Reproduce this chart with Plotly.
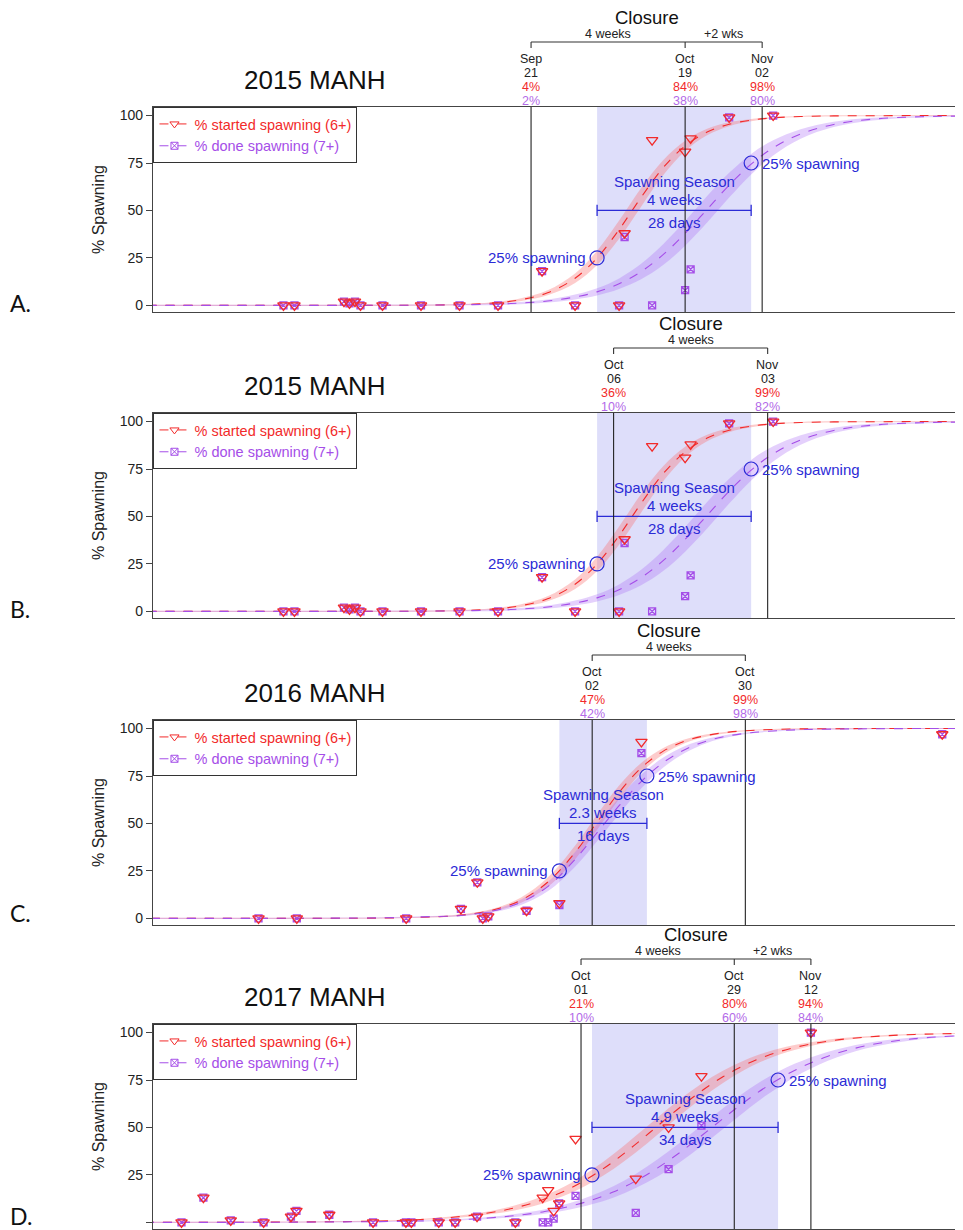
import plotly.graph_objects as go
import pandas as pd

# ---------------- data ----------------
# common month-day grid on which the fitted curves were read
grid_md = ["07-10", "08-01", "08-15", "08-25", "09-01", "09-08", "09-14", "09-19",
           "09-24", "09-29", "10-03", "10-07", "10-11", "10-15", "10-19", "10-23",
           "10-27", "10-31", "11-04", "11-09", "11-15", "11-22", "12-01", "12-12"]

# 2015 observations
obs_dates_2015 = ["2015-08-07", "2015-08-09", "2015-08-18", "2015-08-19", "2015-08-20",
                  "2015-08-21", "2015-08-25", "2015-09-01", "2015-09-08", "2015-09-15",
                  "2015-09-23", "2015-09-29", "2015-10-07", "2015-10-08", "2015-10-13",
                  "2015-10-19", "2015-10-20", "2015-10-27", "2015-11-04"]
obs_started_2015 = [0, 0, 2, 1, 2, 0, 0, 0, 0, 0, 18, 0, 0, 38, 87, 81, 88, 99, 100]
obs_done_2015 = [0, 0, 2, 1, 2, 0, 0, 0, 0, 0, 18, 0, 0, 36, 0, 8, 19, 99, 100]

# 2015 fitted curves (value and half-width of band)
fit_started_2015 = [0, 0, 0, 0, 0.1, 0.4, 1.2, 2.9, 6.6, 14.3, 25, 39.9, 56.9, 72.5, 84, 91.3,
                    95.4, 97.6, 98.8, 99.5, 99.8, 99.9, 100, 100]
band_started_2015 = [0.3, 0.3, 0.3, 0.3, 0.3, 0.3, 0.4, 0.7, 1.3, 2.5, 3.8, 4.8, 4.9, 4.0, 2.7, 1.7,
                     1.0, 0.6, 0.4, 0.3, 0.3, 0.3, 0.3, 0.3]
fit_done_2015 = [0, 0, 0, 0.1, 0.1, 0.3, 0.6, 1.2, 2.3, 4.4, 7.1, 11.4, 17.8, 26.7, 37.9, 50.6,
                 63.3, 74.4, 83, 90.3, 95.3, 98.1, 99.4, 99.8]
band_done_2015 = [0.3, 0.3, 0.3, 0.3, 0.3, 0.3, 0.5, 0.6, 0.8, 1.3, 1.9, 2.8, 4.1, 5.5, 6.5, 7.0,
                  6.5, 5.4, 4.0, 2.5, 1.4, 0.7, 0.4, 0.3]

# 2016 observations
obs_dates_2016 = ["2016-08-02", "2016-08-09", "2016-08-29", "2016-09-08", "2016-09-11",
                  "2016-09-12", "2016-09-13", "2016-09-20", "2016-09-26", "2016-10-11",
                  "2016-12-05"]
obs_started_2016 = [0, 0, 0, 5, 19, 0, 1, 4, 8, 93, 97]
obs_done_2016 = [0, 0, 0, 5, 19, 0, 1, 4, 7, 87, 97]

fit_started_2016 = [0, 0, 0, 0.2, 0.6, 1.7, 4.5, 9.6, 19.4, 35.2, 51.1, 66.7, 79.4, 88.1, 93.4,
                    96.4, 98.1, 99.0, 99.5, 99.8, 99.9, 100, 100, 100]
band_started_2016 = [0.3, 0.3, 0.3, 0.3, 0.3, 0.4, 0.7, 1.4, 2.5, 3.6, 4.0, 3.6, 2.6, 1.7, 1.0,
                     0.6, 0.4, 0.3, 0.3, 0.3, 0.3, 0.3, 0.3, 0.3]
fit_done_2016 = [0, 0, 0.1, 0.3, 0.8, 1.5, 4.0, 8.5, 17, 31.5, 45.5, 59.6, 72.2, 82.1, 89.0,
                 93.5, 96.2, 97.8, 98.7, 99.4, 99.7, 99.9, 100, 100]
band_done_2016 = [0.3, 0.3, 0.3, 0.3, 0.3, 0.4, 0.7, 1.4, 2.5, 3.9, 4.5, 4.3, 3.6, 2.6, 1.8,
                  1.1, 0.7, 0.4, 0.3, 0.3, 0.3, 0.3, 0.3, 0.3]

# 2017 observations
obs_dates_2017 = ["2017-07-20", "2017-07-24", "2017-07-29", "2017-08-04", "2017-08-09",
                  "2017-08-10", "2017-08-16", "2017-08-24", "2017-08-30", "2017-08-31",
                  "2017-09-05", "2017-09-08", "2017-09-12", "2017-09-19", "2017-09-24",
                  "2017-09-25", "2017-09-26", "2017-09-27", "2017-09-30", "2017-10-11",
                  "2017-10-17", "2017-10-23", "2017-11-12"]
obs_started_2017 = [0, 13, 1, 0, 3, 6, 4, 0, 0, 0, 0, 0, 3, 0, 13, 17, 6, 10, 44, 23, 50, 77, 100]
obs_done_2017 = [0, 13, 1, 0, 3, 6, 4, 0, 0, 0, 0, 0, 3, 0, 0, 0, 2, 10, 14, 5, 28, 51, 100]

fit_started_2017 = [0, 0.1, 0.3, 0.7, 1.4, 2.8, 4.9, 7.7, 11.9, 17.9, 24.4, 32.2, 41.2, 50.8,
                    60.4, 69.2, 76.8, 83.0, 87.8, 92.1, 95.4, 97.6, 99.0, 99.6]
band_started_2017 = [0.3, 0.3, 0.3, 0.3, 0.3, 0.5, 0.8, 1.3, 1.9, 2.6, 3.3, 3.9, 4.4, 4.5, 4.3,
                     3.8, 3.2, 2.5, 1.9, 1.3, 0.8, 0.4, 0.3, 0.3]
fit_done_2017 = [0, 0, 0.2, 0.4, 0.7, 1.3, 2.3, 3.6, 5.5, 8.5, 11.8, 16.1, 21.8, 28.7, 36.7,
                 45.6, 54.8, 63.7, 71.7, 80.0, 87.4, 93.0, 96.8, 98.6]
band_done_2017 = [0.3, 0.3, 0.3, 0.3, 0.3, 0.3, 0.5, 0.8, 1.1, 1.7, 2.3, 3.0, 3.7, 4.5, 5.1,
                  5.5, 5.5, 5.1, 4.5, 3.5, 2.4, 1.4, 0.7, 0.3]

# closures (per panel)
closure_dates_A = ["2015-09-21", "2015-10-19", "2015-11-02"]
closure_month_A = ["Sep", "Oct", "Nov"]
closure_day_A = ["21", "19", "02"]
closure_started_A = ["4%", "84%", "98%"]
closure_done_A = ["2%", "38%", "80%"]
closure_spans_A = ["4 weeks", "+2 wks"]

closure_dates_B = ["2015-10-06", "2015-11-03"]
closure_month_B = ["Oct", "Nov"]
closure_day_B = ["06", "03"]
closure_started_B = ["36%", "99%"]
closure_done_B = ["10%", "82%"]
closure_spans_B = ["4 weeks"]

closure_dates_C = ["2016-10-02", "2016-10-30"]
closure_month_C = ["Oct", "Oct"]
closure_day_C = ["02", "30"]
closure_started_C = ["47%", "99%"]
closure_done_C = ["42%", "98%"]
closure_spans_C = ["4 weeks"]

closure_dates_D = ["2017-10-01", "2017-10-29", "2017-11-12"]
closure_month_D = ["Oct", "Oct", "Nov"]
closure_day_D = ["01", "29", "12"]
closure_started_D = ["21%", "80%", "94%"]
closure_done_D = ["10%", "60%", "84%"]
closure_spans_D = ["4 weeks", "+2 wks"]

# spawning season (25% started -> 75% done)
season_2015 = ["2015-10-03", "2015-10-31"]
season_2016 = ["2016-09-26", "2016-10-12"]
season_2017 = ["2017-10-03", "2017-11-06"]
season_weeks = {"2015": "4 weeks", "2016": "2.3 weeks", "2017": "4.9 weeks"}
season_days = {"2015": "28 days", "2016": "16 days", "2017": "34 days"}
season_levels = [25, 50, 75]

panel_titles = ["2015 MANH", "2015 MANH", "2016 MANH", "2017 MANH"]
panel_letters = ["A.", "B.", "C.", "D."]

# ---------------- styles / layout ----------------
OFF = 8                      # page body margin of the html page
W, H = 963 - OFF, 1230 - OFF
RED = "#f22a2a"
PURPLE = "#a54ee8"
PURPLE_TXT = "#b36ae8"
BLUE = "#2b2bd6"
SHADE = "#dedefa"
FONT = "Liberation Sans, Arial, sans-serif"

panel_tops = [107, 413, 720, 1024]
letter_centers = [303, 609, 913, 1216]
PLOT_H = 205
X0_PX = 153
yrange = [-3.5, 104.5]
xranges = [["2015-07-14 07:00", "2015-12-08 12:00"],
           ["2015-07-14 07:00", "2015-12-08 12:00"],
           ["2016-07-13 17:00", "2016-12-08 19:00"],
           ["2017-07-14 19:00", "2017-12-09 19:00"]]

obs = {"2015": (obs_dates_2015, obs_started_2015, obs_done_2015),
       "2016": (obs_dates_2016, obs_started_2016, obs_done_2016),
       "2017": (obs_dates_2017, obs_started_2017, obs_done_2017)}
fits = {"2015": (fit_started_2015, band_started_2015, fit_done_2015, band_done_2015),
        "2016": (fit_started_2016, band_started_2016, fit_done_2016, band_done_2016),
        "2017": (fit_started_2017, band_started_2017, fit_done_2017, band_done_2017)}
seasons = {"2015": season_2015, "2016": season_2016, "2017": season_2017}
closures = [
    (closure_dates_A, closure_month_A, closure_day_A, closure_started_A, closure_done_A, closure_spans_A),
    (closure_dates_B, closure_month_B, closure_day_B, closure_started_B, closure_done_B, closure_spans_B),
    (closure_dates_C, closure_month_C, closure_day_C, closure_started_C, closure_done_C, closure_spans_C),
    (closure_dates_D, closure_month_D, closure_day_D, closure_started_D, closure_done_D, closure_spans_D),
]
panel_years = ["2015", "2015", "2016", "2017"]


def py(px):
    return 1 - (px - OFF) / H


def pxx(px):
    return (px - OFF) / W


def mid(a, b):
    ta, tb = pd.Timestamp(a), pd.Timestamp(b)
    return (ta + (tb - ta) / 2).strftime("%Y-%m-%d %H:%M")


fig = go.Figure()
shapes = []
annotations = []
layout_axes = {}

for i in range(4):
    n = "" if i == 0 else str(i + 1)
    xa, ya = "x" + n, "y" + n
    yr = panel_years[i]
    top = panel_tops[i]
    bottom = top + PLOT_H
    leg = "legend" if i == 0 else "legend" + str(i + 1)

    grid_dates = [f"{yr}-{md}" for md in grid_md]
    fs, bs, fd, bd = fits[yr]
    od, ost, odn = obs[yr]
    s0, s1 = seasons[yr]

    # confidence bands
    for fit, band, col in [(fs, bs, "rgba(250,110,110,0.35)"), (fd, bd, "rgba(170,110,245,0.32)")]:
        lo = [v - b for v, b in zip(fit, band)]
        hi = [v + b for v, b in zip(fit, band)]
        fig.add_trace(go.Scatter(x=grid_dates, y=lo, mode="lines", line=dict(width=0, shape="spline"),
                                 xaxis=xa, yaxis=ya, showlegend=False, hoverinfo="skip"))
        fig.add_trace(go.Scatter(x=grid_dates, y=hi, mode="lines", line=dict(width=0, shape="spline"),
                                 fill="tonexty", fillcolor=col, xaxis=xa, yaxis=ya,
                                 showlegend=False, hoverinfo="skip"))
    # fitted dashed curves
    fig.add_trace(go.Scatter(x=grid_dates, y=fs, mode="lines",
                             line=dict(color=RED, width=1.1, dash="dash", shape="spline"),
                             xaxis=xa, yaxis=ya, showlegend=False))
    fig.add_trace(go.Scatter(x=grid_dates, y=fd, mode="lines",
                             line=dict(color=PURPLE, width=1.1, dash="dash", shape="spline"),
                             xaxis=xa, yaxis=ya, showlegend=False))
    # observations
    fig.add_trace(go.Scatter(x=od, y=odn, mode="markers",
                             marker=dict(symbol="square-x-open", size=7, color=PURPLE,
                                         line=dict(width=1.3, color=PURPLE)),
                             xaxis=xa, yaxis=ya, showlegend=False, cliponaxis=False))
    fig.add_trace(go.Scatter(x=od, y=ost, mode="markers",
                             marker=dict(symbol="triangle-down-open", size=10, color=RED,
                                         line=dict(width=1.3, color=RED)),
                             xaxis=xa, yaxis=ya, showlegend=False, cliponaxis=False))
    # legend entries
    fig.add_trace(go.Scatter(x=[None], y=[None], mode="lines+markers",
                             name=f"<span style='color:{RED}'>% started spawning (6+)</span>",
                             line=dict(color=RED, width=1, dash="dash"),
                             marker=dict(symbol="triangle-down-open", size=8, color=RED),
                             xaxis=xa, yaxis=ya, legend=leg, showlegend=True))
    fig.add_trace(go.Scatter(x=[None], y=[None], mode="lines+markers",
                             name=f"<span style='color:{PURPLE}'>% done spawning (7+)</span>",
                             line=dict(color=PURPLE, width=1, dash="dash"),
                             marker=dict(symbol="square-x-open", size=7, color=PURPLE),
                             xaxis=xa, yaxis=ya, legend=leg, showlegend=True))
    # spawning season bar + circles
    fig.add_trace(go.Scatter(x=[s0, s1], y=[season_levels[1]] * 2, mode="lines+markers",
                             line=dict(color=BLUE, width=1.3),
                             marker=dict(symbol="line-ns-open", size=8, color=BLUE,
                                         line=dict(width=1.3, color=BLUE)),
                             xaxis=xa, yaxis=ya, showlegend=False))
    fig.add_trace(go.Scatter(x=[s0, s1], y=[season_levels[0], season_levels[2]], mode="markers",
                             marker=dict(symbol="circle-open", size=14, color=BLUE,
                                         line=dict(width=1.2, color=BLUE)),
                             xaxis=xa, yaxis=ya, showlegend=False))

    # axes
    ydom = [py(bottom), py(top)]
    layout_axes["xaxis" + n] = dict(domain=[pxx(X0_PX), 1], range=xranges[i], type="date",
                                    anchor=ya, showticklabels=False, ticks="",
                                    showline=True, mirror=True, linecolor="#444", linewidth=1.2,
                                    showgrid=False, zeroline=False, automargin=False)
    layout_axes["yaxis" + n] = dict(domain=ydom, range=yrange, anchor=xa,
                                    tickvals=[0, 25, 50, 75, 100], ticks="outside", ticklen=6,
                                    tickcolor="#444", tickfont=dict(size=14, family=FONT, color="#222"),
                                    showline=True, linecolor="#444", linewidth=1.2,
                                    showgrid=False, zeroline=False, automargin=False,
                                    title=dict(text="% Spawning", font=dict(size=16, family=FONT, color="#222"),
                                               standoff=11))
    layout_axes[leg] = dict(x=pxx(X0_PX) + 0.0005, y=py(top), xanchor="left", yanchor="top",
                            bordercolor="#333", borderwidth=1, bgcolor="white",
                            font=dict(size=14.5, family=FONT), tracegroupgap=0,
                            traceorder="normal", itemwidth=30, itemclick=False)

    # shaded season
    shapes.append(dict(type="rect", xref=xa, yref=ya + " domain", x0=s0, x1=s1, y0=0, y1=1,
                       fillcolor=SHADE, line=dict(width=0), layer="below"))

    # closure lines & labels
    cd, cm, cday, cst, cdn, cspan = closures[i]
    for d in cd:
        shapes.append(dict(type="line", xref=xa, yref=ya + " domain", x0=d, x1=d, y0=0, y1=1,
                           line=dict(color="#222", width=1.1), layer="above"))
        shapes.append(dict(type="line", xref=xa, yref="paper", x0=d, x1=d,
                           y0=py(top - 65), y1=py(top - 59), line=dict(color="#333", width=1.1)))
    shapes.append(dict(type="line", xref=xa, yref="paper", x0=cd[0], x1=cd[-1],
                       y0=py(top - 65), y1=py(top - 65), line=dict(color="#333", width=1.1)))
    annotations.append(dict(text="Closure", xref=xa, yref="paper", x=mid(cd[0], cd[-1]),
                            y=py(top - 90), xanchor="center", yanchor="middle", showarrow=False,
                            font=dict(size=18.5, family=FONT, color="#111")))
    for k, lab in enumerate(cspan):
        annotations.append(dict(text=lab, xref=xa, yref="paper", x=mid(cd[k], cd[k + 1]),
                                y=py(top - 73), xanchor="center", yanchor="middle", showarrow=False,
                                font=dict(size=12.5, family=FONT, color="#222")))
    for d, m_, dd, s_, dn in zip(cd, cm, cday, cst, cdn):
        for txt, off, col in [(m_, 48, "#222"), (dd, 34, "#222"), (s_, 20.5, RED), (dn, 6.5, PURPLE_TXT)]:
            annotations.append(dict(text=txt, xref=xa, yref="paper", x=d, y=py(top - off),
                                    xanchor="center", yanchor="middle", showarrow=False,
                                    font=dict(size=12.5, family=FONT, color=col)))

    # season annotations
    mx = mid(s0, s1)
    for txt, ys in [("Spawning Season", 29), (season_weeks[yr], 11), (season_days[yr], -12)]:
        annotations.append(dict(text=txt, xref=xa, yref=ya, x=mx, y=season_levels[1], yshift=ys,
                                xanchor="center", yanchor="middle", showarrow=False,
                                font=dict(size=15, family=FONT, color=BLUE)))
    annotations.append(dict(text="25% spawning", xref=xa, yref=ya, x=s0, y=season_levels[0],
                            xanchor="right", yanchor="middle", xshift=-9, showarrow=False,
                            font=dict(size=15, family=FONT, color=BLUE)))
    annotations.append(dict(text="25% spawning", xref=xa, yref=ya, x=s1, y=season_levels[2],
                            xanchor="left", yanchor="middle", xshift=9, showarrow=False,
                            font=dict(size=15, family=FONT, color=BLUE)))

    # title & panel letter
    annotations.append(dict(text=panel_titles[i], xref="paper", yref="paper", x=pxx(315),
                            y=py(top - 27), xanchor="center", yanchor="middle", showarrow=False,
                            font=dict(size=26, family=FONT, color="#111")))
    annotations.append(dict(text=panel_letters[i], xref="paper", yref="paper", x=pxx(8),
                            y=py(letter_centers[i]), xanchor="left", yanchor="middle", showarrow=False,
                            font=dict(size=23, family="Lato, Carlito, sans-serif", color="#111")))

fig.update_layout(width=W, height=H, margin=dict(l=0, r=0, t=0, b=0),
                  paper_bgcolor="white", plot_bgcolor="rgba(0,0,0,0)",
                  shapes=shapes, annotations=annotations, **layout_axes)

fig.write_html("out.html")
